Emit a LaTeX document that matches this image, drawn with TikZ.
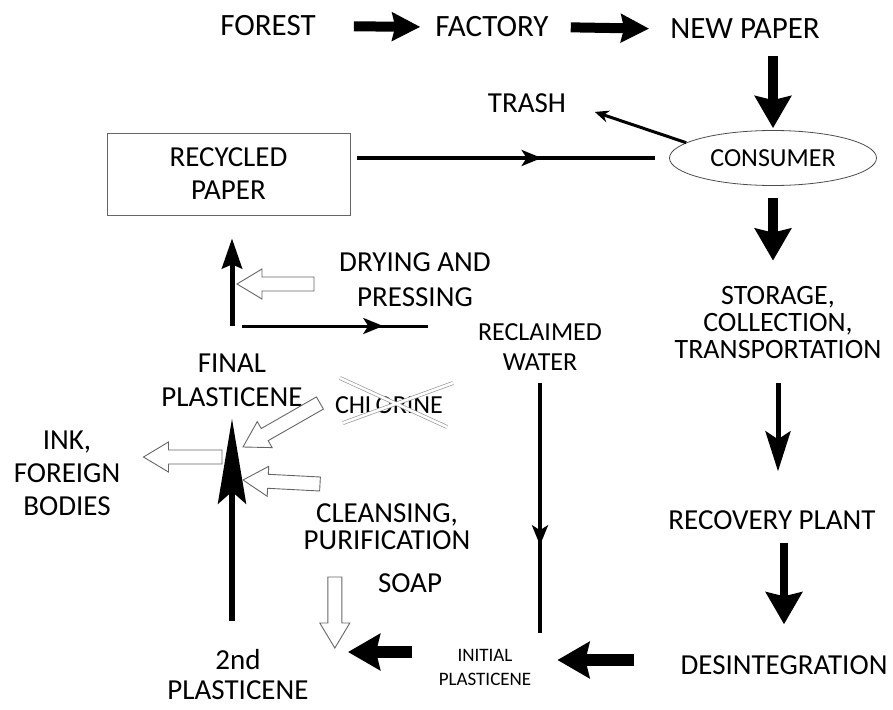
\documentclass[tikz,border=0pt]{standalone}
\usepackage{fontspec}
\setmainfont{Carlito}
\usetikzlibrary{arrows.meta, positioning, calc, shapes.geometric, decorations.markings}

\tikzset{
  lbl/.style={font=\fontsize{29}{33}\selectfont, align=center, inner sep=2pt},
  fat/.style={line width=10pt, -{Stealth[length=28pt, width=28pt, inset=3pt]}},
  fatdown/.style={line width=10pt, -{Stealth[length=32pt, width=36pt, inset=4pt]}},
  slimdown/.style={line width=5pt, -{Stealth[length=40pt, width=25pt, inset=8pt]}},
  spine/.style={line width=6pt, -{Stealth[length=85pt, width=28pt, inset=12pt]}},
  pointer/.style={line width=3pt, -{Stealth[length=14pt, width=12pt]}},
  pipe/.style={line width=3.5pt, postaction={decorate, decoration={markings,
      mark=at position #1 with {\arrow{Stealth[length=20pt, width=16pt, inset=5pt]}}}}},
  hollowline/.style={draw=black!60, line width=0.9pt, fill=white, line join=miter},
  cross/.style={draw=black!40, line width=0.7pt, double=white, double distance=2.5pt}
}

% open arrow from tail #1 to tip #2
\newcommand\hollowarrow[2]{%
  \coordinate (hbase) at ($#2!25pt!#1$);
  \draw[hollowline] ($#1!7pt!90:#2$) -- ($(hbase)!7pt!-90:#1$) -- ($(hbase)!15pt!-90:#1$)
    -- #2 -- ($(hbase)!15pt!90:#1$) -- ($(hbase)!7pt!90:#1$) -- ($#1!7pt!-90:#2$) -- cycle;
}

\begin{document}
\begin{tikzpicture}[x=1pt, y=-1pt]
\useasboundingbox (0,0) rectangle (893,709);

% labels
\node[lbl, font=\fontsize{31}{35}\selectfont] (forest) at (268,26) {FOREST};
\node[lbl, font=\fontsize{31}{35}\selectfont] (factory) at (492,27) {FACTORY};
\node[lbl, font=\fontsize{31}{35}\selectfont] (newpaper) at (745,29) {NEW PAPER};
\node[lbl] (trash) at (527,103) {TRASH};
\node[lbl, ellipse, draw=black!70, line width=0.8pt, font=\fontsize{26}{28}\selectfont,
      minimum width=207pt, minimum height=55pt] (consumer) at (773,158) {CONSUMER};
\node[lbl, draw=black!60, line width=0.8pt, minimum width=243pt, minimum height=82pt]
      (recycled) at (228.5,174) {RECYCLED\\PAPER};
\node[lbl, font=\fontsize{28}{27}\selectfont] (storage) at (778,323) {STORAGE,\\COLLECTION,\\TRANSPORTATION};
\node[lbl] (recovery) at (772,520) {RECOVERY PLANT};
\node[lbl] (desint) at (784,665) {DESINTEGRATION};
\node[lbl, font=\fontsize{19}{24}\selectfont, inner xsep=24pt] (initial) at (485,667) {INITIAL\\PLASTICENE};
\node[lbl, font=\fontsize{29}{30}\selectfont] (second) at (238,675) {2nd\\PLASTICENE};
\node[lbl] (soap) at (410,583) {SOAP};
\node[lbl, font=\fontsize{29}{27}\selectfont] (cleansing) at (387,527) {CLEANSING,\\PURIFICATION};
\node[lbl] (ink) at (67,473) {INK,\\FOREIGN\\BODIES};
\node[lbl, font=\fontsize{29}{34}\selectfont] (final) at (232,380) {FINAL\\PLASTICENE};
\node[lbl, font=\fontsize{26}{30}\selectfont] (chlorine) at (389,405) {CHLORINE};
\node[lbl, font=\fontsize{26}{30}\selectfont] (reclaimed) at (540,347) {RECLAIMED\\WATER};
\node[lbl, font=\fontsize{29}{35}\selectfont] (drying) at (415,280) {DRYING AND\\PRESSING};

\coordinate (junct) at (232,326);
\coordinate (inlet) at (348,652);
\coordinate (chl) at (243,447);
\coordinate (out) at (222,457);
\coordinate (cln) at (243,480);

% paper flow
\draw[fat, shorten <=36pt, shorten >=13pt] (forest.east) -- (factory.west);
\draw[fat, shorten <=20pt, shorten >=19pt] (factory.east) -- (newpaper.west);
\draw[fatdown, shorten <=15pt, shorten >=2pt] (consumer.north |- newpaper.south) -- (consumer.north);
\draw[pointer, shorten >=28pt] (consumer.170) -- (trash.east);
\draw[fatdown, shorten <=12pt, shorten >=24pt] (consumer.south) -- (consumer.south |- storage.north);
\draw[slimdown, shorten <=22pt, shorten >=37pt] (storage.south) -- (storage.south |- recovery.north);
\draw[fatdown, line width=8pt, shorten <=11pt, shorten >=29pt] (desint.north |- recovery.south) -- (desint.north);
\draw[fatdown, line width=12pt, shorten <=44pt, shorten >=2pt] ([yshift=5pt]desint.west) -- ([yshift=5pt]desint.west -| initial.east);
\draw[fatdown, line width=12pt, shorten <=3pt] (initial.west |- inlet) -- (inlet);

% recycling loop
\draw[pipe=0.63, line width=4pt, shorten <=10pt, shorten >=14pt] (reclaimed.south) -- (reclaimed.south |- initial.north);
\draw[pipe=0.6, shorten <=7pt, shorten >=14pt] (recycled.east |- consumer.west) -- (consumer.west);
\draw[pipe=0.62, line width=3pt, shorten <=10pt, shorten >=48pt] (junct) -- (junct -| reclaimed.west);
\draw[slimdown, shorten >=23pt, -{Stealth[length=30pt, width=20pt, inset=4pt]}] (junct) -- (junct |- recycled.south);
\draw[spine, shorten <=27pt, shorten >=10pt] (final.south |- second.north) -- (final.south);

% inputs and outputs
\hollowarrow{($(drying.west)+(-23,4)$)}{($(drying.west -| junct)+(5,4)$)}
\hollowarrow{($(chlorine.west)+(-13,-2)$)}{(chl)}
\hollowarrow{(out)}{($(out -| ink.east)+(21,0)$)}
\hollowarrow{($(cln)+(77,4)$)}{(cln)}
\hollowarrow{($(soap.west)+(-41,-6)$)}{($(soap.west)+(-41,65)$)}

% chlorine struck out
\draw[cross] (340,378) -- (447,427) (453,383) -- (343,423);
\end{tikzpicture}
\end{document}
